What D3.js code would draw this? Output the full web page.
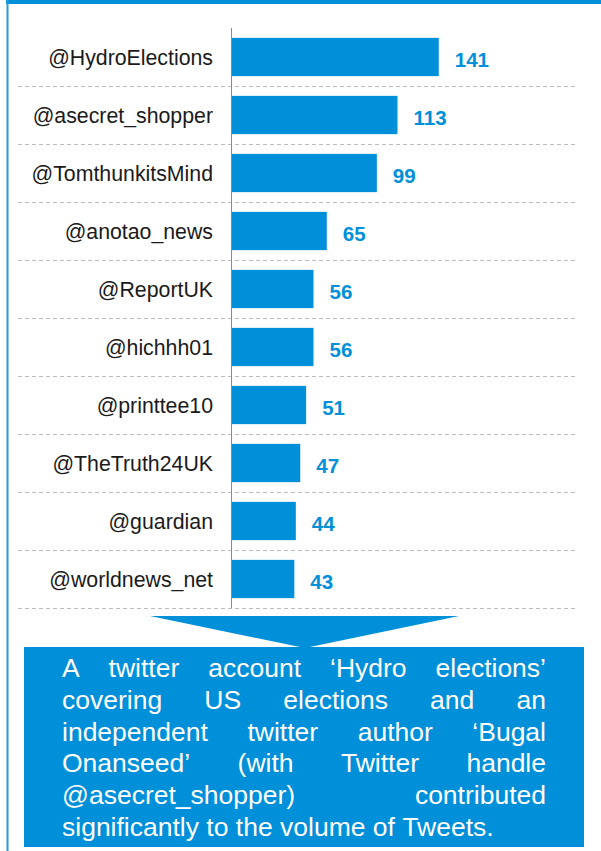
<!DOCTYPE html>
<html lang="en">
<head>
  <meta charset="UTF-8">
  <title>Top Twitter accounts</title>
  <style>
    body { margin: 0; padding: 0; background: #fff; }
    svg { display: block; font-family: "Liberation Sans", Arial, sans-serif; }
  </style>
</head>
<body>
  <svg id="chart" width="601" height="851"></svg>

  <script src="https://d3js.org/d3.v7.min.js"></script>
  <script>
    // data
    const handles = ["@HydroElections", "@asecret_shopper", "@TomthunkitsMind", "@anotao_news",
      "@ReportUK", "@hichhh01", "@printtee10", "@TheTruth24UK", "@guardian", "@worldnews_net"];
    const tweetCounts = [141, 113, 99, 65, 56, 56, 51, 47, 44, 43];
    const noteLines = [
      "A twitter account \u2018Hydro elections\u2019",
      "covering US elections and an",
      "independent twitter author \u2018Bugal",
      "Onanseed\u2019 (with Twitter handle",
      "@asecret_shopper) contributed",
      "significantly to the volume of Tweets."
    ];

    const blue = "#0090d9";
    const svg = d3.select("#chart");

    // frame: top band + thin left rule
    svg.append("rect").attr("x", 6).attr("y", 0).attr("width", 595).attr("height", 4).attr("fill", blue);
    svg.append("rect").attr("x", 6.5).attr("y", 0).attr("width", 2).attr("height", 851).attr("fill", "#2a98dc");

    const rows = handles.map((h, i) => ({ handle: h, value: tweetCounts[i] }));

    const y = d3.scaleBand()
      .domain(handles)
      .range([28, 608])
      .paddingInner(0.34)
      .paddingOuter(0.17);

    const x = d3.scaleLinear()
      .domain([0, 150])
      .range([231, 452]);

    const step = y.step();

    // dashed separators under each row
    svg.append("g")
      .selectAll("line")
      .data(rows)
      .join("line")
        .attr("x1", 18)
        .attr("x2", 578)
        .attr("y1", d => Math.round(y(d.handle) - step * 0.17 + step) + 0.5)
        .attr("y2", d => Math.round(y(d.handle) - step * 0.17 + step) + 0.5)
        .attr("stroke", "#bcbcbc")
        .attr("stroke-width", 1)
        .attr("stroke-dasharray", "4,3");

    // bars
    svg.append("g")
      .selectAll("rect")
      .data(rows)
      .join("rect")
        .attr("x", x(0))
        .attr("y", d => y(d.handle))
        .attr("width", d => x(d.value) - x(0))
        .attr("height", y.bandwidth())
        .attr("fill", blue);

    // vertical axis line
    svg.append("line")
      .attr("x1", x(0) + 0.5).attr("x2", x(0) + 0.5)
      .attr("y1", 28).attr("y2", 608)
      .attr("stroke", "#8a8a8a")
      .attr("stroke-width", 1);

    // category labels
    svg.append("g")
      .selectAll("text")
      .data(rows)
      .join("text")
        .attr("x", 213)
        .attr("y", d => y(d.handle) + y.bandwidth() / 2)
        .attr("dy", "0.36em")
        .attr("text-anchor", "end")
        .attr("font-size", 21.3)
        .attr("fill", "#1a1a1a")
        .text(d => d.handle);

    // value labels
    svg.append("g")
      .selectAll("text")
      .data(rows)
      .join("text")
        .attr("x", d => x(d.value) + 16)
        .attr("y", d => y(d.handle) + y.bandwidth() / 2)
        .attr("dy", "0.5em")
        .attr("font-size", 20.5)
        .attr("font-weight", "bold")
        .attr("fill", blue)
        .text(d => d.value);

    // arrow pointing down into the note box
    svg.append("path")
      .attr("d", "M150,616 L459,616 L305,648 Z")
      .attr("fill", blue);

    // note box
    svg.append("rect")
      .attr("x", 24).attr("y", 647)
      .attr("width", 560).attr("height", 200)
      .attr("fill", blue);

    // justified note text
    const left = 62, right = 546, fontSize = 26.5;
    const noteG = svg.append("g")
      .attr("font-size", fontSize)
      .attr("fill", "#fff");

    noteLines.forEach((line, i) => {
      const baseY = 677 + i * 31.8;
      const words = line.split(" ");
      const last = i === noteLines.length - 1;
      const texts = words.map(w => noteG.append("text").attr("y", baseY).text(w));
      const widths = texts.map(t => t.node().getComputedTextLength());
      const total = d3.sum(widths);
      const gap = last || words.length < 2
        ? fontSize * 0.278
        : (right - left - total) / (words.length - 1);
      let cx = left;
      texts.forEach((t, k) => {
        t.attr("x", cx);
        cx += widths[k] + gap;
      });
    });
  </script>
</body>
</html>
